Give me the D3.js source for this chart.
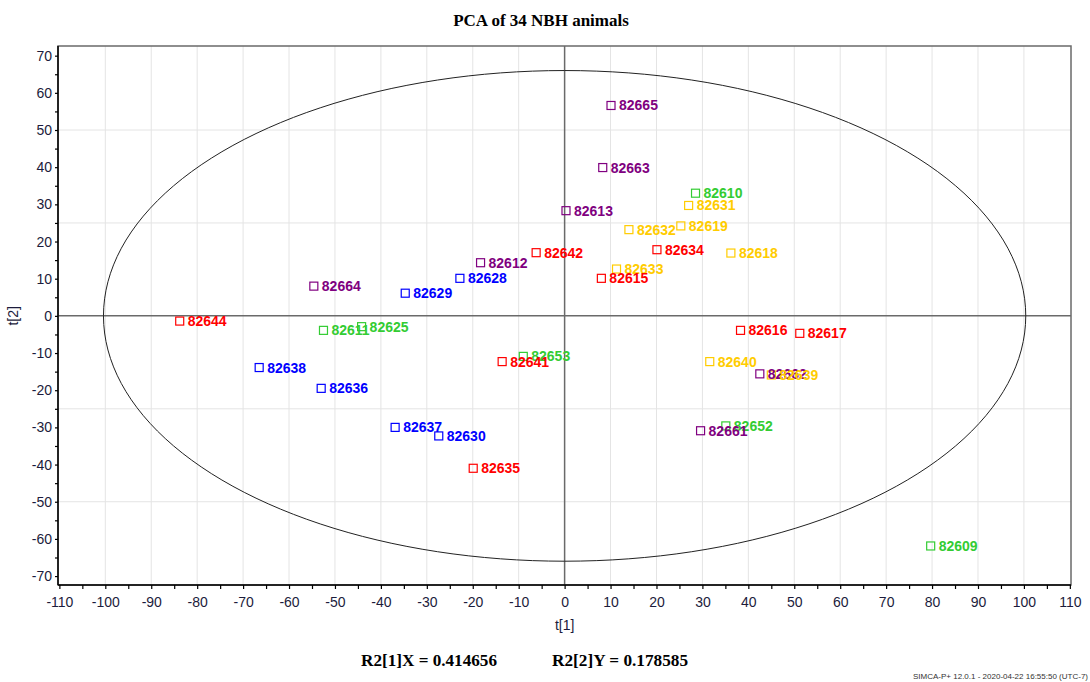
<!DOCTYPE html>
<html>
<head>
<meta charset="utf-8">
<script src="https://cdn.jsdelivr.net/npm/d3@7"></script>
<style>
  html, body { margin: 0; padding: 0; background: #fff; }
  svg { display: block; }
</style>
</head>
<body>
<svg id="chart" width="1090" height="682"></svg>
<script>
// ---- Data ----
const ids     = ["82665","82663","82613","82612","82664","82662","82661",
                 "82610","82611","82625","82653","82652","82609",
                 "82631","82632","82619","82618","82633","82640","82639",
                 "82634","82615","82642","82644","82641","82635","82616","82617",
                 "82628","82629","82638","82636","82637","82630"];
const groups  = ["P","P","P","P","P","P","P",
                 "G","G","G","G","G","G",
                 "Y","Y","Y","Y","Y","Y","Y",
                 "R","R","R","R","R","R","R","R",
                 "B","B","B","B","B","B"];
const t1      = [10.1, 8.3, 0.3, -18.3, -54.6, 42.5, 29.6,
                 28.5, -52.5, -44.2, -9.0, 35.1, 79.7,
                 27.0, 14.0, 25.3, 36.2, 11.3, 31.6, 45.0,
                 20.1, 8.0, -6.2, -83.8, -13.6, -19.9, 38.3, 51.2,
                 -22.8, -34.7, -66.5, -53.0, -36.9, -27.4];
const t2      = [56.6, 39.9, 28.3, 14.3, 8.0, -15.6, -30.9,
                 33.0, -3.9, -2.9, -10.9, -29.6, -61.9,
                 29.7, 23.2, 24.2, 16.9, 12.6, -12.3, -15.9,
                 17.8, 10.1, 17.0, -1.4, -12.3, -41.0, -3.9, -4.7,
                 10.1, 6.1, -13.9, -19.5, -30.0, -32.3];
const groupOrder  = ["B","G","P","Y","R"];
const groupColors = ["#0000FF","#33CC33","#800080","#FFCC00","#FF0000"];
const xTickValues = d3.range(-110, 111, 10);
const yTickValues = d3.range(-70, 71, 10);
const ellipseRadii = [100.4, 66.0];
const title = "PCA of 34 NBH animals";
const footer1 = "R2[1]X = 0.414656";
const footer2 = "R2[2]Y = 0.178585";
const stamp = "SIMCA-P+ 12.0.1 - 2020-04-22 16:55:50 (UTC-7)";

// ---- Layout ----
const svg = d3.select("#chart");
const L = 58, R = 1071, T = 46, B = 585;
const x = d3.scaleLinear().domain([-110.3, 110.25]).range([L, R]);
const y = d3.scaleLinear().domain([72.6, -72.4]).range([T, B]);
const color = d3.scaleOrdinal().domain(groupOrder).range(groupColors);

// title
svg.append("text").attr("x", 541).attr("y", 26).attr("text-anchor", "middle")
  .attr("font-family", "Liberation Serif, Times New Roman, serif")
  .attr("font-weight", "bold").attr("font-size", 17).attr("fill", "#000").text(title);

// gridlines
const grid = svg.append("g");
grid.selectAll("line.v").data(d3.range(-100, 101, 10).filter(d => d !== 0)).join("line")
  .attr("x1", d => x(d)).attr("x2", d => x(d)).attr("y1", T).attr("y2", B)
  .attr("stroke", "#e4e4e4").attr("stroke-width", 1);
grid.selectAll("line.h").data([-50, -25, 25, 50]).join("line")
  .attr("y1", d => y(d)).attr("y2", d => y(d)).attr("x1", L).attr("x2", R)
  .attr("stroke", "#e4e4e4").attr("stroke-width", 1);

// frame
svg.append("rect").attr("x", L).attr("y", T).attr("width", R - L).attr("height", B - T)
  .attr("fill", "none").attr("stroke", "#6a6a6a").attr("stroke-width", 1.5);

// zero lines
svg.append("line").attr("x1", x(0)).attr("x2", x(0)).attr("y1", T).attr("y2", B)
  .attr("stroke", "#6a6a6a").attr("stroke-width", 1.5);
svg.append("line").attr("y1", y(0)).attr("y2", y(0)).attr("x1", L).attr("x2", R)
  .attr("stroke", "#6a6a6a").attr("stroke-width", 1.5);

// ellipse
const ell = d3.range(0, 361, 2).map(a => [ellipseRadii[0] * Math.cos(a * Math.PI / 180), ellipseRadii[1] * Math.sin(a * Math.PI / 180)]);
svg.append("path").datum(ell)
  .attr("d", d3.line().x(d => x(d[0])).y(d => y(d[1])))
  .attr("fill", "none").attr("stroke", "#222").attr("stroke-width", 1);

// axes
const tickFont = "Liberation Sans, Arial, sans-serif";
const xAxis = svg.append("g").attr("transform", `translate(0,${B})`)
  .call(d3.axisBottom(x).tickValues(xTickValues).tickSize(4).tickPadding(8).tickFormat(d => String(d)));
const xMinor = svg.append("g").attr("transform", `translate(0,${B})`)
  .call(d3.axisBottom(x).tickValues(d3.range(-105, 110, 10)).tickSize(4).tickFormat(""));
const yAxis = svg.append("g").attr("transform", `translate(${L},0)`)
  .call(d3.axisLeft(y).tickValues(yTickValues).tickSize(3).tickPadding(3).tickFormat(d => String(d)));
const yMinor = svg.append("g").attr("transform", `translate(${L},0)`)
  .call(d3.axisLeft(y).tickValues(d3.range(-65, 70, 10)).tickSize(3).tickFormat(""));
[xAxis, xMinor, yAxis, yMinor].forEach(g => {
  g.select(".domain").attr("stroke", "#000").attr("stroke-width", 1.5);
  g.selectAll(".tick line").attr("stroke", "#000").attr("stroke-width", 1.2);
  g.selectAll("text").attr("font-family", tickFont).attr("font-size", 14).attr("fill", "#1c1c3c");
});
yAxis.select(".domain").attr("d", `M0,${T}V${B}`);
xAxis.select(".domain").attr("d", `M${L},0H${R}`);
xMinor.select(".domain").remove();
yMinor.select(".domain").remove();

// axis titles
svg.append("text").attr("x", x(0)).attr("y", 630).attr("text-anchor", "middle")
  .attr("font-family", tickFont).attr("font-size", 14).attr("fill", "#1c1c3c").text("t[1]");
svg.append("text").attr("transform", `translate(18,${y(0)}) rotate(-90)`).attr("text-anchor", "middle")
  .attr("font-family", tickFont).attr("font-size", 14).attr("fill", "#1c1c3c").text("t[2]");

// points
const pts = ids.map((id, i) => ({ id, g: groups[i], t1: t1[i], t2: t2[i] }))
  .sort((a, b) => groupOrder.indexOf(a.g) - groupOrder.indexOf(b.g));
const s = 8;
svg.append("g").selectAll("rect").data(pts).join("rect")
  .attr("x", d => x(d.t1) - s / 2).attr("y", d => y(d.t2) - s / 2)
  .attr("width", s).attr("height", s)
  .attr("fill", "none").attr("stroke", d => color(d.g)).attr("stroke-width", 1.2);
svg.append("g").selectAll("text").data(pts).join("text")
  .attr("x", d => x(d.t1) + 8).attr("y", d => y(d.t2) + 5)
  .attr("font-family", tickFont).attr("font-weight", "bold").attr("font-size", 14)
  .attr("fill", d => color(d.g)).text(d => d.id);

// footer
const serif = "Liberation Serif, Times New Roman, serif";
svg.append("text").attr("x", 361).attr("y", 666).attr("font-family", serif).attr("font-weight", "bold")
  .attr("font-size", 16).attr("textLength", 136).attr("lengthAdjust", "spacingAndGlyphs").text(footer1);
svg.append("text").attr("x", 552).attr("y", 666).attr("font-family", serif).attr("font-weight", "bold")
  .attr("font-size", 16).attr("textLength", 136).attr("lengthAdjust", "spacingAndGlyphs").text(footer2);
svg.append("text").attr("x", 1088).attr("y", 679).attr("text-anchor", "end").attr("font-family", tickFont)
  .attr("font-size", 8).attr("fill", "#333").text(stamp);
</script>
</body>
</html>
